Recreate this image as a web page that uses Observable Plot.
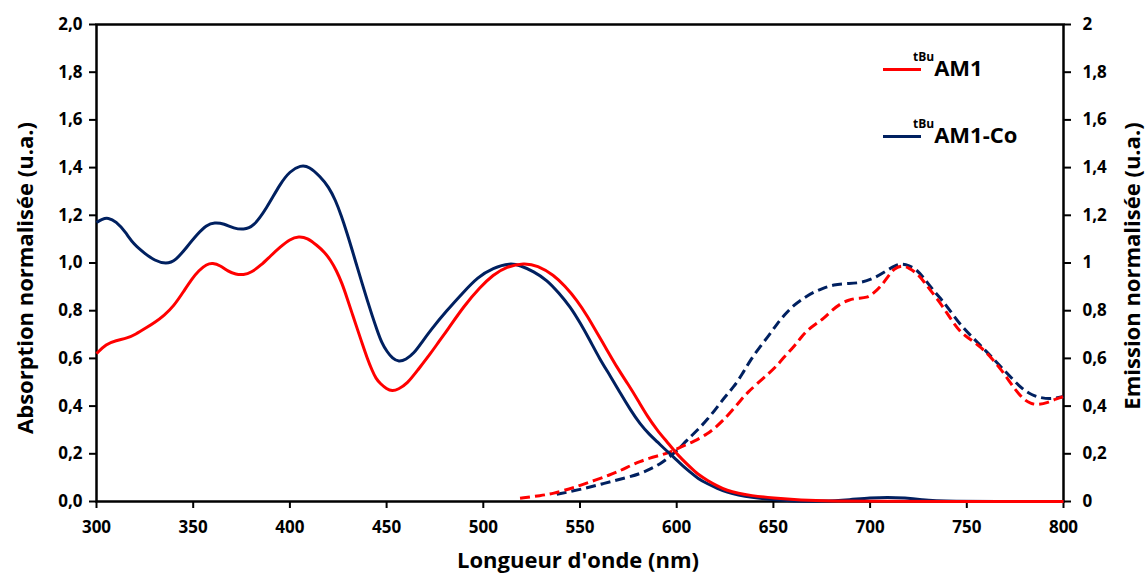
<!DOCTYPE html>
<html>
<head>
<meta charset="utf-8">
<script src="https://cdn.jsdelivr.net/npm/d3@7"></script>
<script src="https://cdn.jsdelivr.net/npm/@observablehq/plot@0.6"></script>
<style>
  html, body { margin: 0; padding: 0; background: #fff; }
  #wrap { position: relative; width: 1145px; height: 576px; font-family: "Open Sans", sans-serif; font-weight: bold; }
  .leg-line { position: absolute; height: 3px; width: 38px; }
  .leg-text { position: absolute; font-size: 22px; line-height: 1; color: #000; white-space: nowrap; }
  .leg-text sup { font-size: 12px; position: relative; top: -5px; vertical-align: top; }
</style>
</head>
<body>
<div id="wrap"></div>
<script>
// ---- Data ----
const seriesNames = ["AM1", "AM1-Co"];
const seriesColors = ["#ff0000", "#002060"];
const xTicks = [300, 350, 400, 450, 500, 550, 600, 650, 700, 750, 800];
const yTicks = [0, 0.2, 0.4, 0.6, 0.8, 1.0, 1.2, 1.4, 1.6, 1.8, 2.0];
const xTitle = "Longueur d'onde (nm)";
const yLeftTitle = "Absorption normalisée (u.a.)";
const yRightTitle = "Emission normalisée (u.a.)";

// Absorption AM1 (red, solid) [nm, value]
const absAM1 = [
  [300,0.62],[305,0.66],[310,0.675],[316,0.685],[320,0.70],[326,0.73],[330,0.75],[335,0.78],[340,0.82],[345,0.88],
  [349,0.93],[353,0.97],[357,0.995],[360,1.0],[364,0.99],[368,0.965],[372,0.952],[376,0.95],[380,0.96],[385,0.99],
  [390,1.03],[395,1.067],[400,1.10],[404.6,1.112],[409,1.105],[414,1.074],[418,1.045],[421,1.012],[424,0.97],[427,0.914],
  [429.5,0.855],[432.2,0.788],[435,0.72],[437.4,0.662],[440,0.60],[442.5,0.55],[444.5,0.515],[446.8,0.494],[450,0.472],[452.9,0.463],
  [456,0.47],[460.7,0.494],[466,0.55],[472.7,0.62],[477,0.67],[481.5,0.72],[490,0.82],[498.5,0.90],[505,0.95],[512,0.985],
  [521,1.0],[528,0.99],[536.5,0.949],[542,0.905],[548.5,0.844],[554,0.775],[559,0.704],[564,0.635],[569,0.564],[575,0.49],
  [580,0.424],[585,0.355],[590,0.298],[595,0.25],[599,0.21],[603,0.175],[607,0.144],[611,0.113],[616,0.088],[621,0.065],
  [626,0.046],[632,0.034],[638,0.025],[650,0.014],[664,0.006],[680,0.002],[700,0.001],[740,0],[800,0]
];
// Absorption AM1-Co (navy, solid)
const absAM1Co = [
  [300,1.17],[303,1.185],[306,1.19],[310,1.175],[315,1.13],[319,1.08],[325,1.04],[330,1.01],[336,0.995],[341,1.01],
  [347,1.07],[352,1.12],[357,1.16],[361,1.17],[366,1.165],[371,1.145],[376,1.14],[381,1.15],[388,1.23],[395,1.333],
  [400,1.385],[405.5,1.41],[410,1.405],[415.8,1.361],[420,1.32],[423.6,1.263],[426.5,1.20],[429.6,1.124],[432,1.06],[434.8,0.983],
  [437.5,0.91],[440,0.844],[442.5,0.78],[445.1,0.718],[447.5,0.665],[450.3,0.627],[453,0.60],[456.3,0.585],[460,0.595],[464,0.62],
  [468,0.665],[472.7,0.718],[481,0.80],[490,0.88],[497,0.94],[505,0.98],[514,1.0],[519,0.99],[526,0.965],[533,0.928],
  [539,0.875],[545,0.816],[550,0.75],[555,0.678],[560,0.60],[566,0.522],[571,0.452],[576,0.385],[581,0.325],[586,0.28],
  [590,0.25],[594,0.218],[598.5,0.186],[603,0.15],[607,0.123],[611,0.096],[616,0.074],[621,0.055],[626,0.039],[632,0.027],
  [638,0.018],[650,0.007],[660,0.002],[676,0],[690,0.008],[700,0.015],[709,0.018],[718,0.015],[727,0.008],[735,0],[800,0]
];
// Emission AM1 (red, dashed)
const emAM1 = [
  [519,0.014],[530,0.025],[536,0.033],[545,0.054],[550,0.067],[558,0.09],[565,0.11],[571,0.13],[576,0.15],[581,0.168],
  [586,0.182],[592,0.195],[597,0.208],[602,0.228],[609,0.252],[616,0.284],[620,0.31],[624,0.34],[628.5,0.38],[633,0.424],
  [637,0.46],[641.6,0.494],[648,0.54],[652,0.571],[656,0.61],[660.5,0.648],[664,0.685],[667.5,0.718],[672,0.745],[676,0.767],
  [680,0.80],[684.7,0.83],[689,0.845],[693,0.853],[698.5,0.853],[702,0.875],[705.4,0.90],[709,0.94],[712.3,0.977],[716.6,0.99],
  [720,0.98],[724.4,0.956],[728,0.92],[731.2,0.886],[736,0.835],[739.9,0.788],[743,0.75],[746.7,0.711],[750,0.69],[757,0.65],
  [763,0.60],[769,0.54],[774,0.48],[779,0.43],[783,0.41],[787,0.405],[792,0.415],[796,0.43],[800,0.44]
];
// Emission AM1-Co (navy, dashed)
const emAM1Co = [
  [538,0.03],[550,0.05],[562,0.075],[574,0.10],[581,0.116],[586,0.135],[591.6,0.158],[596,0.185],[600.3,0.214],[605,0.255],
  [610.6,0.298],[616,0.345],[621,0.396],[625,0.44],[629.5,0.48],[634,0.535],[638,0.592],[643,0.648],[648,0.70],[652,0.746],
  [656,0.785],[660.5,0.823],[666,0.855],[671,0.879],[676,0.895],[681,0.909],[688,0.914],[695,0.916],[702,0.935],[709,0.97],
  [713,0.99],[716.6,0.998],[720,0.99],[724.4,0.97],[728,0.935],[731.2,0.90],[736,0.855],[740,0.816],[746.7,0.739],[754,0.68],
  [760,0.63],[767,0.57],[774,0.51],[779,0.47],[784,0.445],[788,0.435],[793,0.43],[797,0.435],[800,0.44]
];

const toRows = arr => arr.map(([x, y]) => ({x, y}));

const fmtLeft = d => d3.format(".1f")(d).replace(".", ",");
const fmtRight = d => String(+d.toFixed(1)).replace(".", ",");

const lineOpts = (color, dashed) => ({
  x: "x", y: "y", stroke: color, strokeWidth: 3, curve: "basis",
  strokeDasharray: dashed ? "10,5" : null, strokeLinecap: "butt"
});

const titleOpts = {fontSize: 22, fontWeight: "bold", fill: "#000", textAnchor: "middle", lineAnchor: "middle"};

const chart = Plot.plot({
  width: 1145,
  height: 576,
  marginLeft: 96,
  marginRight: 82,
  marginTop: 24,
  marginBottom: 75,
  style: { fontFamily: "'Open Sans', sans-serif", fontWeight: "bold", fontSize: "16px", color: "#000", background: "#fff" },
  x: { domain: [300, 800] },
  y: { domain: [0, 2] },
  marks: [
    Plot.frame({ stroke: "#000", strokeWidth: 2.5 }),
    Plot.axisX({ ticks: xTicks, tickSize: 7, tickPadding: 12, tickFormat: d => String(d), fontSize: 17,
                 label: null, strokeWidth: 2 }),
    Plot.axisY({ anchor: "left", ticks: yTicks, tickSize: 7, tickPadding: 7, tickFormat: fmtLeft, fontSize: 17,
                 label: null, strokeWidth: 2 }),
    Plot.axisY({ anchor: "right", ticks: yTicks, tickSize: 7, tickPadding: 12, tickFormat: fmtRight, fontSize: 17,
                 label: null, strokeWidth: 2 }),
    Plot.text([xTitle], {...titleOpts, frameAnchor: "bottom", dx: -2, dy: 59}),
    Plot.text([yLeftTitle], {...titleOpts, frameAnchor: "left", rotate: -90, dx: -71, dy: 15}),
    Plot.text([yRightTitle], {...titleOpts, frameAnchor: "right", rotate: -90, dx: 69, dy: 3}),
    Plot.lineY(toRows(emAM1Co), lineOpts(seriesColors[1], true)),
    Plot.lineY(toRows(emAM1), lineOpts(seriesColors[0], true)),
    Plot.lineY(toRows(absAM1Co), lineOpts(seriesColors[1], false)),
    Plot.lineY(toRows(absAM1), lineOpts(seriesColors[0], false))
  ]
});

const wrap = document.getElementById("wrap");
wrap.appendChild(chart);

// Legend (HTML overlay, superscript prefix)
const legTops = [56, 123];
seriesNames.forEach((name, i) => {
  const line = document.createElement("div");
  line.className = "leg-line";
  line.style.left = "883px";
  line.style.top = (legTops[i] + 12) + "px";
  line.style.background = seriesColors[i];
  wrap.appendChild(line);
  const txt = document.createElement("div");
  txt.className = "leg-text";
  txt.style.left = "913px";
  txt.style.top = legTops[i] + "px";
  txt.innerHTML = "<sup>tBu</sup>" + name;
  wrap.appendChild(txt);
});
</script>
</body>
</html>
